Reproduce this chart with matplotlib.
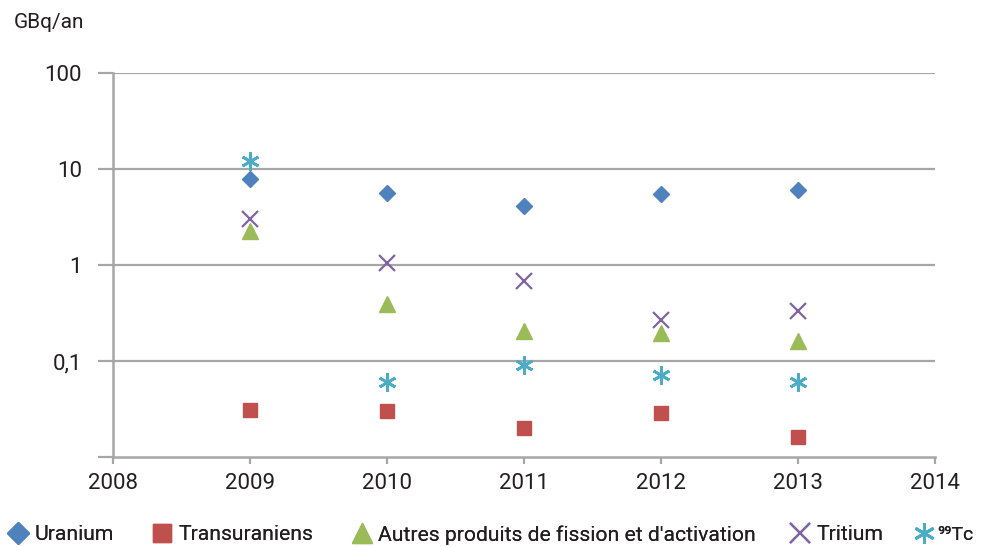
import matplotlib
matplotlib.use("Agg")
import matplotlib.pyplot as plt
from matplotlib.ticker import FixedLocator, FixedFormatter, NullLocator

plt.rcParams['font.family'] = ['Roboto', 'DejaVu Sans']

years = [2009, 2010, 2011, 2012, 2013]
uranium = [7.9, 5.6, 4.1, 5.5, 6.0]
transuraniens = [0.031, 0.030, 0.020, 0.029, 0.016]
autres = [2.25, 0.39, 0.205, 0.195, 0.16]
tritium = [3.0, 1.05, 0.68, 0.27, 0.33]
tc99 = [12.0, 0.061, 0.091, 0.072, 0.061]

series_labels = ["Uranium", "Transuraniens",
                 "Autres produits de fission et d'activation",
                 "Tritium", "\u2079\u2079Tc"]

y_ticks = [0.01, 0.1, 1, 10, 100]
y_tick_labels = ["", "0,1", "1", "10", "100"]
x_ticks = [2008, 2009, 2010, 2011, 2012, 2013, 2014]

text_color = "#231f20"
grid_color = "#a6a6a6"

W, H = 981, 547
fig = plt.figure(figsize=(W / 100, H / 100), dpi=100)
ax = fig.add_axes([113 / W, 1 - 457 / H, (935 - 113) / W, (457 - 73) / H])

ax.set_yscale("log")
ax.set_ylim(0.01, 100)
ax.set_xlim(2008, 2014)

for y in y_ticks[1:]:
    ax.axhline(y, color=grid_color, lw=1.6, zorder=1)

h1, = ax.plot(years, uranium, linestyle="none", marker="D", ms=8.5,
              color="#4f81bd", zorder=3)
h2, = ax.plot(years, transuraniens, linestyle="none", marker="s", ms=10.5,
              color="#c0504d", zorder=3)
h3, = ax.plot(years, autres, linestyle="none", marker="^", ms=11.5,
              color="#9bbb59", zorder=3)
h4, = ax.plot(years, tritium, linestyle="none", marker="x", ms=11,
              mew=1.6, color="#8064a2", zorder=3)
h5, = ax.plot(years, tc99, linestyle="none", marker=(6, 2, 0), ms=13,
              mew=2.0, color="#4bacc6", zorder=3)

for s in ["top", "right"]:
    ax.spines[s].set_visible(False)
for s in ["left", "bottom"]:
    ax.spines[s].set_color(grid_color)
    ax.spines[s].set_linewidth(1.8)

ax.yaxis.set_major_locator(FixedLocator(y_ticks))
ax.yaxis.set_major_formatter(FixedFormatter(y_tick_labels))
ax.yaxis.set_minor_locator(NullLocator())
ax.xaxis.set_major_locator(FixedLocator(x_ticks))
ax.xaxis.set_major_formatter(FixedFormatter([str(x) for x in x_ticks]))

ax.tick_params(axis="y", length=11, width=1.6, color=grid_color,
               labelsize=16, labelcolor=text_color, pad=11.5)
ax.tick_params(axis="x", length=5, width=1.6, color=grid_color,
               labelsize=16, labelcolor=text_color, pad=6.5)

fig.text(14 / W, 1 - 22 / H, "GBq/an", fontsize=15, color=text_color,
         ha="left", va="center")

# one legend entry per handle, spread along the bottom edge
handles = [h1, h2, h3, h4, h5]
legend_left_px = [9, 153, 353, 791, 916]
scales = [1.35, 1.2, 1.2, 1.25, 1.15]
font_sizes = [15.2, 15.2, 15.2, 15.2, 14.0]
text_pads = [0.35, 0.35, 0.35, 0.35, 0.25]
for h, lab, xpx, sc, fs, tp in zip(handles, series_labels, legend_left_px,
                                   scales, font_sizes, text_pads):
    leg = fig.legend([h], [lab], loc="center left",
                     bbox_to_anchor=(xpx / W, 1 - 535 / H),
                     frameon=False, fontsize=fs, handlelength=0.85,
                     handletextpad=tp, borderaxespad=0, borderpad=0,
                     markerscale=sc, labelcolor=text_color)
    fig.add_artist(leg)

fig.savefig("out.png", dpi=100)
